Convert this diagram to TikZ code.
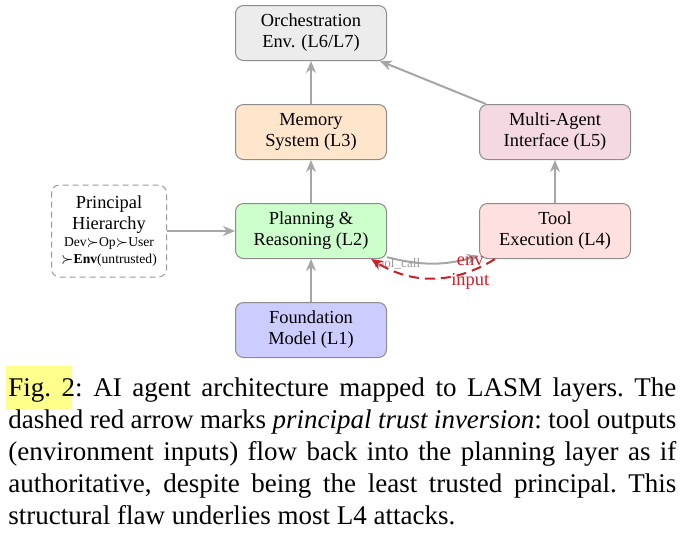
\documentclass[tikz,border=0pt]{standalone}
\usepackage{fontspec}
\setmainfont{Liberation Serif}
\usetikzlibrary{positioning, arrows.meta}

\definecolor{trustred}{RGB}{204,32,40}
\definecolor{figmark}{RGB}{255,255,140}

% yellow mark behind the figure number
\newcommand{\hlfig}[1]{\setbox0\hbox{#1}\rlap{\kern-1pt\smash{\textcolor{figmark}{\rule[-6.5pt]{\dimexpr\wd0+1.5pt\relax}{21.5pt}}}}#1}

\begin{document}
\begin{tikzpicture}[
    >={Stealth[length=6pt, width=5pt]},
    x=1pt, y=1pt,
    node distance=21.5pt and 46pt,
    layer/.style={rectangle, rounded corners=4pt, draw=gray!90, line width=0.5pt,
        minimum width=75.5pt, minimum height=27.5pt, align=center,
        font=\fontsize{9.2}{10.5}\selectfont},
    flow/.style={->, draw=gray!70, line width=1pt},
    trust/.style={->, draw=trustred, line width=1pt, dash pattern=on 5pt off 3pt}
]

    \useasboundingbox (0,0) rectangle (343,-266);

    % Layer stack
    \node[layer, fill=green!20] (plan) at (155.5,-115.5) {Planning \&\\Reasoning (L2)};
    \node[layer, fill=orange!20, above=of plan] (mem) {Memory\\System (L3)};
    \node[layer, fill=gray!15, above=of mem] (orch) {Orchestration\\Env. (L6/L7)};
    \node[layer, fill=blue!20, below=of plan] (found) {Foundation\\Model (L1)};
    \node[layer, fill=red!12, right=of plan] (tool) {Tool\\Execution (L4)};
    \node[layer, fill=purple!15, above=of tool] (multi) {Multi-Agent\\Interface (L5)};

    % Principal hierarchy
    \node[layer, dash pattern=on 3pt off 2pt, draw=gray!80, minimum width=57.5pt, minimum height=46pt,
        left=34pt of plan] (princ)
        {Principal\\Hierarchy\\[-2pt]{\fontsize{6.8}{8}\selectfont Dev$\succ$Op$\succ$User}\\[-2pt]%
         {\fontsize{6.8}{8}\selectfont $\succ$\textbf{Env}(untrusted)}};

    % Upward flow
    \draw[flow] (found) -- (plan);
    \draw[flow] (plan) -- (mem);
    \draw[flow] (mem) -- (orch);
    \draw[flow] (tool) -- (multi);
    \draw[flow] (multi) -- (orch);
    \draw[flow] (princ) -- (plan);

    % Tool call and trust inversion
    \draw[flow] (plan.-19) to[bend right=15]
        node[pos=0.1, yshift=-2pt, text=gray!80, font=\fontsize{6.6}{7}\selectfont] (call) {tool\_call}
        (tool.198);
    \draw[trust] (tool.205) to[bend left=32]
        node[pos=0.2, yshift=-1pt, align=center, text=trustred, font=\fontsize{9.2}{10}\selectfont] (envin) {env\\input}
        (plan.-25);

    % Caption
    \node[anchor=north west, inner sep=0pt, text width=334pt, align=justify,
        font=\fontsize{13.5}{16}\selectfont\frenchspacing] (cap) at (4,-188.5)
        {\hlfig{Fig.~2}: AI agent architecture mapped to LASM layers. The\linebreak
         dashed red arrow marks \textit{principal trust inversion}: tool outputs\linebreak
         (environment inputs) flow back into the planning layer as if\linebreak
         authoritative, despite being the least trusted principal. This\linebreak
         structural flaw underlies most L4 attacks.};

\end{tikzpicture}
\end{document}
